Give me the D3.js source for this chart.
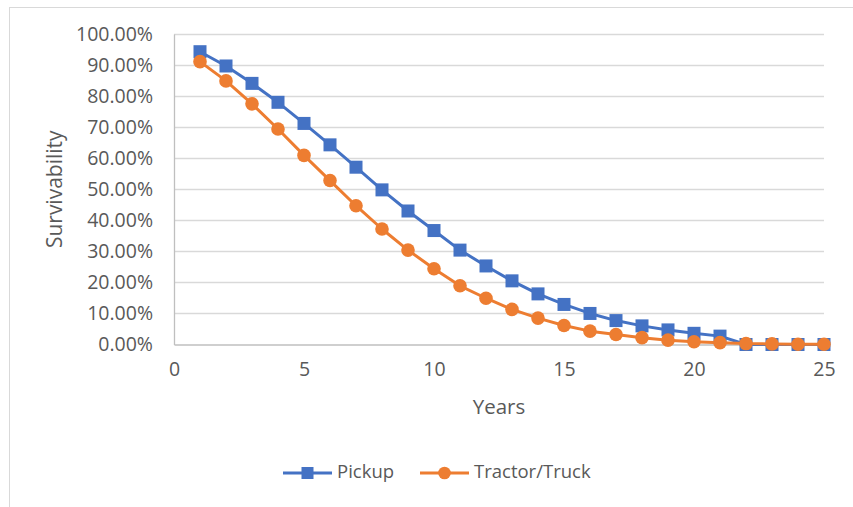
<!DOCTYPE html>
<html>
<head>
<meta charset="utf-8">
<script src="https://cdn.jsdelivr.net/npm/d3@7/dist/d3.min.js"></script>
<style>
  html, body { margin: 0; padding: 0; background: #fff; }
  svg { display: block; }
  text { font-family: "Open Sans", "Liberation Sans", sans-serif; fill: #595959; }
</style>
</head>
<body>
<svg id="chart" width="853" height="507"></svg>
<script>
// Survivability by vehicle age
const years = d3.range(1, 26);
const pickup = [94.3, 89.7, 84.1, 78.0, 71.2, 64.3, 57.1, 49.8, 43.0, 36.7,
                30.4, 25.3, 20.5, 16.3, 12.9, 10.0, 7.7, 6.0, 4.7, 3.6,
                2.7, 0.0, 0.0, 0.0, 0.0];
const tractorTruck = [91.1, 84.9, 77.5, 69.4, 60.9, 52.8, 44.7, 37.2, 30.4, 24.4,
                      18.9, 14.9, 11.3, 8.5, 6.1, 4.3, 3.2, 2.2, 1.4, 0.9,
                      0.6, 0.3, 0.2, 0.1, 0.1];
const xTicks = [0, 5, 10, 15, 20, 25];
const yTicks = [0, 10, 20, 30, 40, 50, 60, 70, 80, 90, 100];
const seriesNames = ["Pickup", "Tractor/Truck"];
const seriesColors = ["#4472c4", "#ed7d31"];

const svg = d3.select("#chart");

// chart frame
svg.append("rect")
  .attr("x", 9.5).attr("y", 7.5)
  .attr("width", 860).attr("height", 520)
  .attr("fill", "none").attr("stroke", "#d9d9d9").attr("stroke-width", 1);

const plot = { left: 174, right: 824, top: 34, bottom: 344.5 };
const x = d3.scaleLinear().domain([0, 25]).range([plot.left, plot.right]);
const y = d3.scaleLinear().domain([0, 100]).range([plot.bottom, plot.top]);

// horizontal gridlines
svg.append("g")
  .selectAll("line").data(yTicks.filter(d => d > 0)).join("line")
  .attr("x1", plot.left).attr("x2", plot.right)
  .attr("y1", d => Math.round(y(d)) + 0.5).attr("y2", d => Math.round(y(d)) + 0.5)
  .attr("stroke", "#d9d9d9").attr("stroke-width", 1.3);

// y axis
const yAxis = svg.append("g")
  .attr("transform", `translate(${plot.left},0)`)
  .call(d3.axisLeft(y).tickValues(yTicks).tickSize(0).tickPadding(21)
    .tickFormat(d => d.toFixed(2) + "%"));
yAxis.select(".domain").attr("stroke", "#bfbfbf").attr("stroke-width", 1.3);
yAxis.selectAll("text").attr("font-size", 19.5).attr("fill", "#595959")
  .style("font-family", "'Open Sans', sans-serif");

// x axis
const xAxis = svg.append("g")
  .attr("transform", `translate(0,${plot.bottom})`)
  .call(d3.axisBottom(x).tickValues(xTicks).tickSize(0).tickPadding(18));
xAxis.select(".domain").attr("stroke", "#bfbfbf").attr("stroke-width", 1.3);
xAxis.selectAll("text").attr("font-size", 19.5).attr("fill", "#595959")
  .style("font-family", "'Open Sans', sans-serif");

// axis titles
svg.append("text")
  .attr("transform", `translate(56,${(plot.top + plot.bottom) / 2}) rotate(-90)`)
  .attr("text-anchor", "middle").attr("dominant-baseline", "middle")
  .attr("font-size", 21).text("Survivability");
svg.append("text")
  .attr("x", (plot.left + plot.right) / 2).attr("y", 409)
  .attr("text-anchor", "middle").attr("dominant-baseline", "middle")
  .attr("font-size", 20.5).text("Years");

// series
const data = [pickup, tractorTruck];
const line = d3.line().x((d, i) => x(years[i])).y(d => y(d));

data.forEach((vals, s) => {
  const g = svg.append("g");
  g.append("path").datum(vals)
    .attr("d", line).attr("fill", "none")
    .attr("stroke", seriesColors[s]).attr("stroke-width", 3)
    .attr("stroke-linejoin", "round");
  if (s === 0) {
    g.selectAll("rect").data(vals).join("rect")
      .attr("x", (d, i) => x(years[i]) - 6.5).attr("y", d => y(d) - 6.5)
      .attr("width", 13).attr("height", 13)
      .attr("fill", seriesColors[s]);
  } else {
    g.selectAll("circle").data(vals).join("circle")
      .attr("cx", (d, i) => x(years[i])).attr("cy", d => y(d))
      .attr("r", 6.8).attr("fill", seriesColors[s]);
  }
});

// legend
const legendItems = [
  { name: seriesNames[0], color: seriesColors[0], x0: 283, shape: "square" },
  { name: seriesNames[1], color: seriesColors[1], x0: 420, shape: "circle" }
];
const ly = 473;
legendItems.forEach(it => {
  const g = svg.append("g");
  g.append("line").attr("x1", it.x0).attr("x2", it.x0 + 49)
    .attr("y1", ly).attr("y2", ly)
    .attr("stroke", it.color).attr("stroke-width", 3);
  if (it.shape === "square") {
    g.append("rect").attr("x", it.x0 + 24.5 - 6).attr("y", ly - 6)
      .attr("width", 12).attr("height", 12).attr("fill", it.color);
  } else {
    g.append("circle").attr("cx", it.x0 + 24.5).attr("cy", ly).attr("r", 6.3)
      .attr("fill", it.color);
  }
  g.append("text").attr("x", it.x0 + 54).attr("y", ly)
    .attr("dominant-baseline", "middle").attr("font-size", 18.5).text(it.name);
});
</script>
</body>
</html>
